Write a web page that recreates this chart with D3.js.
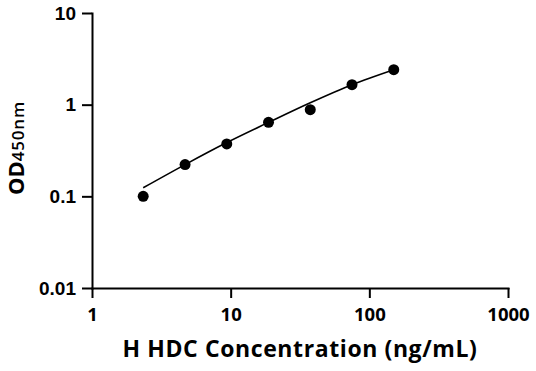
<!DOCTYPE html>
<html>
<head>
<meta charset="utf-8">
<script src="https://cdn.jsdelivr.net/npm/d3@7/dist/d3.min.js"></script>
<style>
  body { margin: 0; background: #fff; }
  svg { display: block; }
  .axis path, .axis line { stroke: #000; stroke-width: 2px; }
  .ytick text { font-family: "Liberation Sans", Arial, sans-serif; font-weight: bold; font-size: 19px; }
  .xtick text { font-family: "Open Sans", sans-serif; font-weight: bold; font-size: 18.5px; }
</style>
</head>
<body>
<svg width="536" height="371"></svg>
<script>
// standard concentrations (ng/mL) and measured OD450
var conc = [2.34, 4.69, 9.375, 18.75, 37.5, 75, 150];
var od = [0.100, 0.222, 0.373, 0.641, 0.882, 1.65, 2.41];
// fitted curve read at the same concentrations
var fitOD = [0.124, 0.222, 0.386, 0.641, 1.05, 1.653, 2.41];

var xTicks = [1, 10, 100, 1000];
var yTicks = [0.01, 0.1, 1, 10];

var svg = d3.select('svg');

var xScale = d3.scaleLog().domain([1, 1000]).range([92, 508]);
var yScale = d3.scaleLog().domain([0.01, 10]).range([288, 13]);

// axes
svg.append('g').attr('class', 'axis xtick')
    .attr('transform', 'translate(0,288)')
    .call(d3.axisBottom(xScale).tickValues(xTicks).tickFormat(d3.format('d'))
        .tickSize(10).tickSizeOuter(0).tickPadding(10));

svg.append('g').attr('class', 'axis ytick')
    .attr('transform', 'translate(92,0)')
    .call(d3.axisLeft(yScale).tickValues(yTicks).tickFormat(function(d) { return String(d); })
        .tickSize(10).tickSizeOuter(0).tickPadding(6));

svg.selectAll('.axis .domain').attr('stroke-linecap', 'square');

// fitted line
var line = d3.line()
    .x(function(d, i) { return xScale(conc[i]); })
    .y(function(d) { return yScale(d); })
    .curve(d3.curveMonotoneX);

svg.append('path')
    .datum(fitOD)
    .attr('d', line)
    .attr('fill', 'none')
    .attr('stroke', '#000')
    .attr('stroke-width', 1.6);

// data points
svg.selectAll('circle')
    .data(od)
    .enter()
    .append('circle')
    .attr('cx', function(d, i) { return xScale(conc[i]); })
    .attr('cy', function(d) { return yScale(d); })
    .attr('r', 5.5)
    .style('fill', '#000');

// axis titles
svg.append('text')
    .attr('x', 300)
    .attr('y', 357)
    .attr('text-anchor', 'middle')
    .style('font-family', '"Open Sans", sans-serif')
    .style('font-weight', 'bold')
    .style('font-size', '23px')
    .style('letter-spacing', '0.6px')
    .text('H HDC Concentration (ng/mL)');

var yl = svg.append('text')
    .attr('transform', 'translate(24,148) rotate(-90)')
    .attr('text-anchor', 'middle')
    .style('font-family', '"Open Sans", sans-serif');
yl.append('tspan').style('font-weight', 'bold').style('font-size', '22px').text('OD');
yl.append('tspan').style('font-weight', '600').style('font-size', '17px')
    .style('letter-spacing', '0.8px').text('450nm');
</script>
</body>
</html>
